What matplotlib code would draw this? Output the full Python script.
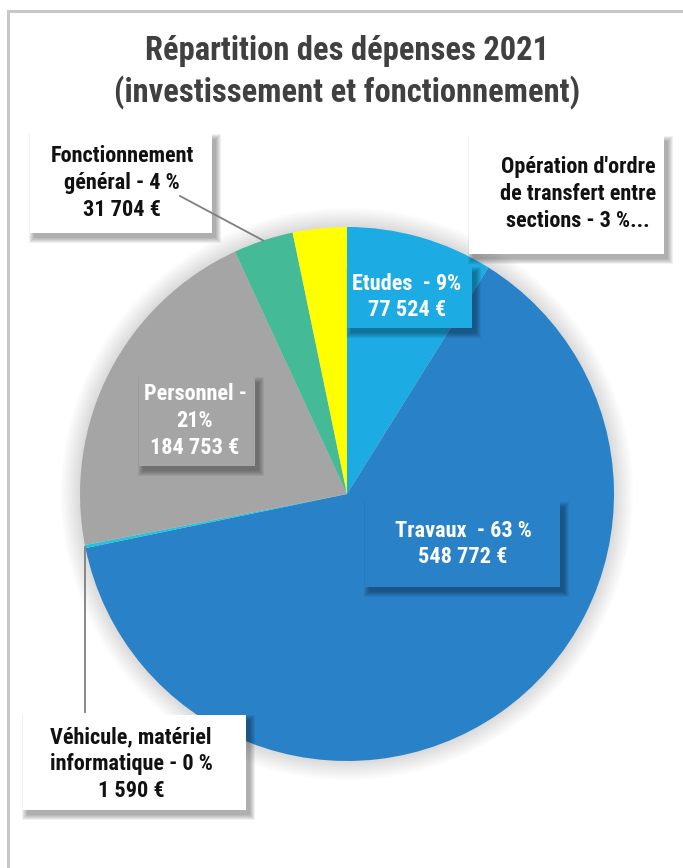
import matplotlib
matplotlib.use("Agg")
import matplotlib.pyplot as plt
from matplotlib import font_manager
from matplotlib.patches import Rectangle, Circle
import numpy as np

# ── Data ────────────────────────────────────────────
categories = ["Etudes", "Travaux", "Véhicule, matériel informatique",
              "Personnel", "Fonctionnement général",
              "Opération d'ordre de transfert entre sections"]
values = [77524, 548772, 1590, 184753, 31704, 28500]
colors = ["#1CABE2", "#2981C8", "#21C6DC", "#A5A5A5", "#45BA97", "#FFFF00"]

label_texts = [
    "Etudes  - 9%\n77 524 €",
    "Travaux  - 63 %\n548 772 €",
    "Véhicule, matériel\ninformatique - 0 %\n1 590 €",
    "Personnel -\n21%\n184 753 €",
    "Fonctionnement\ngénéral - 4 %\n31 704 €",
    "Opération d'ordre\nde transfert entre\nsections - 3 %...",
]
title = "Répartition des dépenses 2021\n(investissement et fonctionnement)"

W, H = 683, 868

# look for a bold condensed face (the original uses a narrow font)
fname = None
cands = []
for f in font_manager.fontManager.ttflist:
    st = str(f.stretch).lower()
    wt = f.weight if isinstance(f.weight, int) else 700 if "bold" in str(f.weight) else 400
    narrow = ("condensed" in st or "narrow" in f.name.lower()
              or "condensed" in f.name.lower() or "Condensed" in f.fname
              or "Narrow" in f.fname)
    if narrow and wt >= 600 and not f.style == "italic":
        cands.append(f)
pref = ["Roboto Condensed", "Liberation Sans Narrow", "DejaVu Sans", "Open Sans"]
cands.sort(key=lambda f: (next((i for i, p in enumerate(pref) if p in f.name), 99),
                          -(f.weight if isinstance(f.weight, int) else 700)))
if cands:
    fname = cands[0].fname

if fname:
    FP = dict(fontproperties=font_manager.FontProperties(fname=fname))
    SQ = 1.0
else:
    FP = dict(fontfamily="DejaVu Sans", fontweight="bold", fontstretch="condensed")
    SQ = 0.85


def fx(x):
    return x / W


def fy(y):
    return 1 - y / H


fig = plt.figure(figsize=(W / 100, H / 100), dpi=100)

# outer frame (right and bottom edges fall outside the picture)
fig.patches.append(Rectangle((fx(8), fy(900)), fx(720), 889 / H,
                             transform=fig.transFigure, fill=False,
                             edgecolor="#C8C8C8", linewidth=2.2))

# pie axes
cx, cy, r = 347, 494, 267
ax = fig.add_axes([fx(cx - r), fy(cy + r), 2 * r / W, 2 * r / H])

wedges, _ = ax.pie(values, colors=colors, startangle=90, counterclock=False,
                   radius=1, wedgeprops=dict(linewidth=0))
for w in wedges:
    w.set_zorder(2)
ax.set_xlim(-1, 1)
ax.set_ylim(-1, 1)
ax.set_aspect("equal")
ax.axis("off")

# soft halo behind the pie
for i in range(12):
    ax.add_patch(Circle((0, 0), 1 + 0.006 * (i + 1), color="#000000",
                        alpha=0.012, lw=0, zorder=0, clip_on=False))


def draw_box(x0, y0, x1, y1, face):
    for i in range(6):
        d = i * 1.0
        fig.patches.append(Rectangle((fx(x0 + 4 - d), fy(y1 + 5 + d)),
                                     (x1 - x0 + 2 * d) / W, (y1 - y0 + 2 * d) / H,
                                     transform=fig.transFigure, color="#000000",
                                     alpha=0.06, lw=0, zorder=3))
    fig.patches.append(Rectangle((fx(x0), fy(y1)), (x1 - x0) / W, (y1 - y0) / H,
                                 transform=fig.transFigure, facecolor=face,
                                 lw=0, zorder=4))


# boxes: (x0, y0, x1, y1) in pixels, text centre, text colour, face
boxes = [
    ((347, 267, 472, 328), (407, 297), "white", colors[0]),
    ((365, 502, 560, 587), (463, 544), "white", colors[1]),
    ((23, 715, 246, 810), (131, 764), "black", "white"),
    ((139, 377, 255, 466), (195, 421), "white", colors[3]),
    ((30, 134, 212, 233), (122, 183), "black", "white"),
    ((469, 136, 664, 254), (578, 194), "black", "white"),
]

# leader lines to the small outer slices
for idx, start in [(4, (180, 196)), (2, (86, 712))]:
    w = wedges[idx]
    mid = np.deg2rad((w.theta1 + w.theta2) / 2)
    px_, py_ = cx + np.cos(mid) * r, cy - np.sin(mid) * r
    if idx == 2:
        start = (px_, start[1])
    fig.lines.append(plt.Line2D([fx(start[0]), fx(px_)], [fy(start[1]), fy(py_)],
                                transform=fig.transFigure, color="#7F7F7F",
                                lw=1.3, zorder=5))

for (box, (tx, ty), tc, face), txt in zip(boxes, label_texts):
    draw_box(*box, face)
    fig.text(fx(tx), fy(ty), txt, ha="center", va="center",
             color="#111111" if tc == "black" else tc,
             fontsize=16 * SQ, linespacing=1.28, zorder=6, **FP)

fig.text(fx(347), fy(72), title, ha="center", va="center", color="#404040",
         fontsize=23.5 * SQ, linespacing=1.33, **FP)

fig.savefig("out.png", dpi=100)
